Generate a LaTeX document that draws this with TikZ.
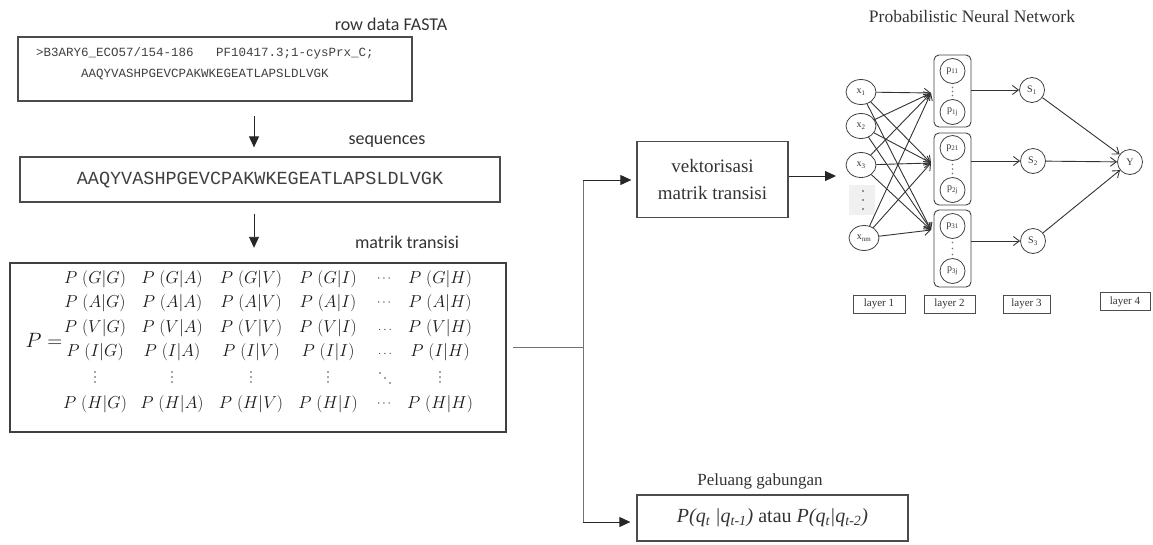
\documentclass[tikz,border=0pt]{standalone}
\usepackage{fontspec}
\usepackage{amsmath}
\setmainfont{Liberation Serif}
\newfontfamily\calib{Carlito}
\newfontfamily\cour{Liberation Mono}
\usetikzlibrary{arrows.meta,shapes.geometric,calc}

\begin{document}
\begin{tikzpicture}[x=1pt,y=-1pt,
  boxline/.style={draw=black!70, line width=1.3pt, inner sep=0pt},
  thickbox/.style={draw=black!75, line width=2.4pt, inner sep=0pt},
  flow/.style={draw=black!85, line width=0.9pt, -{Triangle[length=11pt,width=10pt]}},
  link/.style={draw=black!55, line width=0.9pt},
  caption/.style={font=\calib\fontsize{18}{20}\selectfont, text=black!80, inner sep=0pt},
  seqtext/.style={font=\cour\fontsize{12.5}{21}\selectfont, text=black!75, align=center, inner sep=0pt},
  ent/.style={font=\fontsize{17}{18}\selectfont, text=black!90, inner sep=0pt},
  mdot/.style={circle, fill=black!70, inner sep=0pt, minimum size=1.8pt},
  serlabel/.style={text=black!80, inner sep=0pt},
  neuron/.style={draw=black!75, line width=0.8pt, ellipse, minimum width=30pt, minimum height=25pt, inner sep=0pt, font=\fontsize{10}{10}\selectfont, text=black!80},
  unit/.style={draw=black!75, line width=0.8pt, circle, minimum size=25pt, inner sep=0pt, font=\fontsize{10}{10}\selectfont, text=black!80},
  grp/.style={draw=black!75, line width=0.9pt, rounded corners=5pt, minimum width=37pt, inner sep=0pt},
  layerbox/.style={draw=black!70, line width=0.8pt, minimum height=18pt, inner sep=0pt, font=\fontsize{11}{11}\selectfont, text=black!80},
  nnarr/.style={draw=black!80, line width=0.9pt, -{Straight Barb[length=6pt,width=9pt]}}
]
\useasboundingbox (0,0) rectangle (1153,544);

% ---------- left column: FASTA -> sequence -> transition matrix ----------
\node[caption] (capfasta) at (391,24) {row data FASTA};
\node[boxline, minimum width=394pt, minimum height=64pt] (fasta) at (215,69) {};
\node[seqtext] (fastatext) at (205,64) {>B3ARY6\_ECO57/154-186\ \ \ PF10417.3;1-cysPrx\_C;\\AAQYVASHPGEVCPAKWKEGEATLAPSLDLVGK};

\node[caption] (capseq) at (387,142) {sequences};
\node[boxline, minimum width=480pt, minimum height=45pt] (seq) at (260,179.5) {};
\node[font=\cour\fontsize{18.5}{20}\selectfont, text=black!75, inner sep=0pt] (seqtext) at (260,180) {AAQYVASHPGEVCPAKWKEGEATLAPSLDLVGK};

\node[caption] (capmat) at (407,242) {matrik transisi};
\node[thickbox, minimum width=496pt, minimum height=169pt] (mat) at (258,347.5) {};

\coordinate (ax) at (254,0);
\draw[flow, shorten <=14pt, shorten >=9pt] (fasta.south -| ax) -- (seq.north -| ax);
\draw[flow, shorten <=11pt, shorten >=14pt] (seq.south -| ax) -- (mat.north -| ax);

% matrix entries
\node[ent, font=\fontsize{20}{20}\selectfont] (peq) at (44,340) {$P=$};
\foreach \y/\a in {279/G,303/A,328/V,352/I,404/H}{
  \foreach \x/\b in {95/G,172/A,251/V,328/I,440/H}{
    \node[ent] (p\a\b) at (\x,\y) {$P\;(\a|\b)$};
  }
}
\node[ent, font=\fontsize{13}{13}\selectfont] (dG) at (385,279) {$\cdots$};
\node[ent, font=\fontsize{13}{13}\selectfont] (dA) at (385,303) {$\cdots$};
\node[ent, font=\fontsize{13}{13}\selectfont] (dV) at (385,330) {$\ldots$};
\node[ent, font=\fontsize{13}{13}\selectfont] (dI) at (385,354) {$\ldots$};
\node[ent, font=\fontsize{13}{13}\selectfont] (dH) at (385,404) {$\cdots$};
% vertical and diagonal ellipses of the fifth row
\foreach \x/\b in {95/G,172/A,251/V,328/I,440/H}{
  \foreach \k in {0,1,2}{
    \node[mdot] (v\b\k) at (\x,{372+\k*5}) {};
  }
}
\foreach \k in {0,1,2}{
  \node[mdot] (dd\k) at ({380+\k*5},{373+\k*5}) {};
}

% ---------- routing to the two right-hand blocks ----------
\node[boxline, minimum width=151pt, minimum height=76pt, align=center,
      font=\fontsize{19}{27}\selectfont, text=black!80] (vek) at (712.5,179.5) {vektorisasi\\matrik transisi};
\node[serlabel, font=\fontsize{17}{18}\selectfont] (capjoint) at (760,481) {Peluang gabungan};
\node[boxline, minimum width=271pt, minimum height=46pt, font=\fontsize{20}{22}\selectfont, text=black!80] (joint) at (772.5,518)
  {{\itshape P(q\textsubscript{t} |q\textsubscript{t-1})} atau {\itshape P(q\textsubscript{t}|q\textsubscript{t-2})}};

\coordinate (jmid) at (583,347);
\coordinate (jtop) at (583,180);
\coordinate (jbot) at (583,522);
\draw[link, shorten <=6pt] (mat.east |- jmid) -- (jmid);
\draw[link] (jtop) -- (jbot);
\draw[flow, shorten >=5pt] (jtop) -- (jtop -| vek.west);
\draw[flow, shorten >=6pt] (jbot) -- (jbot -| joint.west);

% ---------- probabilistic neural network ----------
\node[serlabel, font=\fontsize{17.5}{18}\selectfont] (nntitle) at (972,17) {Probabilistic Neural Network};

\coordinate (nnin) at (836,176);
\draw[flow] (vek.east |- nnin) -- (nnin);

% input layer
\node[neuron] (x1) at (861,92) {x\textsubscript{1}};
\node[neuron] (x2) at (861,126) {x\textsubscript{2}};
\node[neuron] (x3) at (861,165) {x\textsubscript{3}};
\node[fill=black!6, minimum width=26pt, minimum height=30pt, inner sep=0pt] (xdots) at (862,200) {};
\foreach \yy [count=\i] in {191,200,209}{
  \node[circle, fill=black!55, inner sep=0pt, minimum size=2.2pt] (xd\i) at (863,\yy) {};
}
\node[neuron] (xnm) at (864,238) {x\textsubscript{nm}};

% pattern layer: three groups of units
\node[grp, minimum height=72pt] (g1) at (952.5,91) {};
\node[grp, minimum height=72pt] (g2) at (952.5,169) {};
\node[grp, minimum height=77pt] (g3) at (952.5,248.5) {};
\node[unit] (p11) at (952.5,71) {p\textsubscript{11}};
\node[unit] (p1j) at (952.5,112) {p\textsubscript{1j}};
\node[unit] (p21) at (952.5,148) {p\textsubscript{21}};
\node[unit] (p2j) at (952.5,190) {p\textsubscript{2j}};
\node[unit] (p31) at (952.5,226) {p\textsubscript{31}};
\node[unit] (p3j) at (952.5,271) {p\textsubscript{3j}};
\foreach \g/\ya/\yb in {1/71/112,2/148/190,3/226/271}{
  \foreach \k in {0,1,2}{
    \node[circle, fill=black!55, inner sep=0pt, minimum size=1.6pt] (gd\g\k) at (952.5,{\ya+12.5+4+\k*(\yb-\ya-33)/2}) {};
  }
}

% convergence points on the left of each group
\coordinate (c1) at (931,93);
\coordinate (c2) at (931,163);
\coordinate (c3) at (931,230);
\foreach \s in {x1,x2,x3,xnm}{
  \foreach \c in {c1,c2,c3}{
    \draw[nnarr] (\s) -- (\c);
  }
}

% summation layer and output
\node[unit] (s1) at (1032,90) {S\textsubscript{1}};
\node[unit] (s2) at (1033,161) {S\textsubscript{2}};
\node[unit] (s3) at (1033,241) {S\textsubscript{3}};
\node[unit] (y) at (1130,162) {Y};
\draw[nnarr] (g1.east |- s1) -- (s1);
\draw[nnarr] (g2.east |- s2) -- (s2);
\draw[nnarr] (g3.east |- s3) -- (s3);
\draw[nnarr] (s1) -- (y);
\draw[nnarr] (s2) -- (y);
\draw[nnarr] (s3) -- (y);

% layer captions
\node[layerbox, minimum width=52pt] (l1) at (879,304) {layer 1};
\node[layerbox, minimum width=51pt] (l2) at (949.5,304) {layer 2};
\node[layerbox, minimum width=47pt] (l3) at (1026.5,304) {layer 3};
\node[layerbox, minimum width=50pt] (l4) at (1125,301.5) {layer 4};
\end{tikzpicture}
\end{document}
